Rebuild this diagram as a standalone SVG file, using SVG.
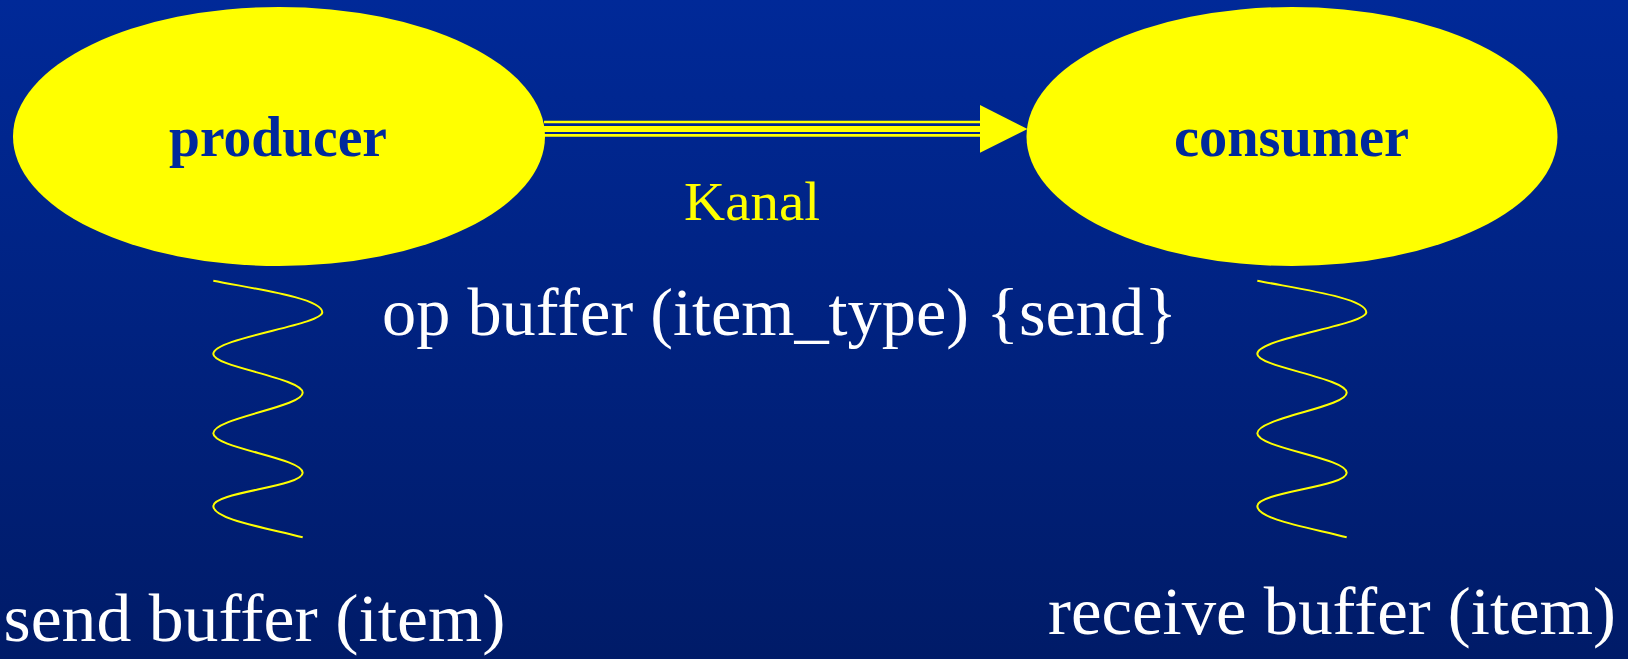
<svg xmlns="http://www.w3.org/2000/svg" width="1628" height="659" viewBox="0 0 1628 659">
<defs>
<linearGradient id="bg" x1="0" y1="0" x2="0" y2="1">
<stop offset="0" stop-color="#002998"/>
<stop offset="1" stop-color="#001B68"/>
</linearGradient>
</defs>
<style>
.node{fill:#FFFF00;}
.nlabel{font-family:"Liberation Serif","Times New Roman",serif;font-weight:bold;font-size:56px;fill:#00299C;text-anchor:middle;}
.white{font-family:"Liberation Serif","Times New Roman",serif;font-size:68px;fill:#FFFFFF;}
.kanal{font-family:"Liberation Serif","Times New Roman",serif;font-size:55px;fill:#FFFF00;}
.wave{fill:none;stroke:#FFFF00;stroke-width:2;}
.chan{stroke:#FFFF00;fill:none;}
</style>
<rect x="0" y="0" width="1628" height="659" fill="url(#bg)"/>
<g id="producer">
<ellipse class="node" cx="279" cy="136.5" rx="266" ry="129.5"/>
<text class="nlabel" x="278" y="156" textLength="218" lengthAdjust="spacingAndGlyphs">producer</text>
</g>
<g id="consumer">
<ellipse class="node" cx="1292" cy="136.5" rx="265.5" ry="129.5"/>
<text class="nlabel" x="1291.5" y="156" textLength="235" lengthAdjust="spacingAndGlyphs">consumer</text>
</g>
<g id="connectors">
<line class="chan" x1="544" y1="122" x2="981" y2="122" stroke-width="2.7"/>
<line class="chan" x1="544" y1="129" x2="981" y2="129" stroke-width="6"/>
<line class="chan" x1="544" y1="135.3" x2="981" y2="135.3" stroke-width="2.7"/>
<polygon points="980,105 1027.5,129 980,152.7" fill="#FFFF00"/>
<text class="kanal" x="684" y="220" textLength="136" lengthAdjust="spacingAndGlyphs">Kanal</text>
<path class="wave" d="M213.3,280.7 C255,289 322.3,298 322.3,312.3 C322.3,325 213.3,338 213.3,354 C213.3,367 302.7,378 302.7,392.7 C302.7,407 213.3,418 213.3,433.3 C213.3,448 302.7,458 302.7,472.7 C302.7,487 213.3,492 213.3,506 C213.3,519 262,527 302.7,537.3"/>
<path class="wave" d="M1257.3,280.7 C1299,289 1366.3,298 1366.3,312.3 C1366.3,325 1257.3,338 1257.3,354 C1257.3,367 1346.7,378 1346.7,392.7 C1346.7,407 1257.3,418 1257.3,433.3 C1257.3,448 1346.7,458 1346.7,472.7 C1346.7,487 1257.3,492 1257.3,506 C1257.3,519 1306,527 1346.7,537.3"/>
</g>
<text class="white" x="382" y="335" textLength="795" lengthAdjust="spacingAndGlyphs">op buffer (item_type) {send}</text>
<text class="white" x="3.5" y="641" textLength="502" lengthAdjust="spacingAndGlyphs">send buffer (item)</text>
<text class="white" x="1048" y="634" textLength="568" lengthAdjust="spacingAndGlyphs">receive buffer (item)</text>
</svg>
